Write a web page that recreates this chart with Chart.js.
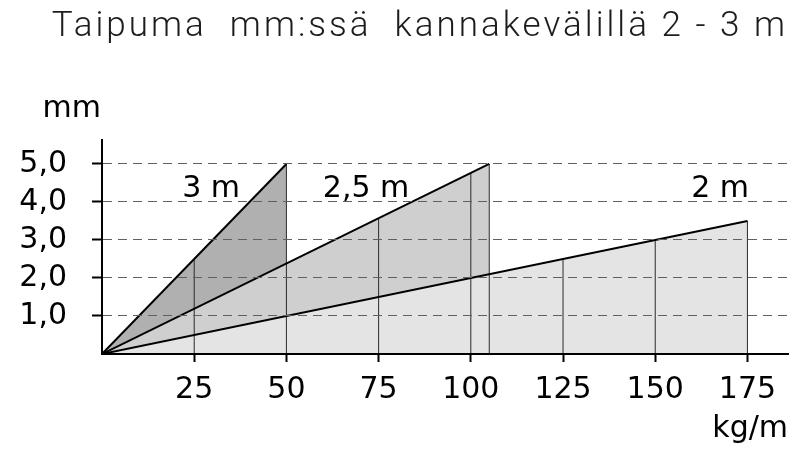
<!DOCTYPE html>
<html>
<head>
<meta charset="utf-8">
<script src="https://cdn.jsdelivr.net/npm/chart.js@4/dist/chart.umd.min.js"></script>
<style>
  html, body { margin: 0; padding: 0; background: #ffffff; }
  #wrap { width: 800px; height: 460px; }
</style>
</head>
<body>
<div id="wrap"><canvas id="c" width="800" height="460"></canvas></div>
<script>
// ---- data ----
const spanLabels = ['3 m', '2,5 m', '2 m'];      // kannakeväli
const endLoad    = [50, 105, 175];               // kg/m at the end of each line
const endDefl    = [5.0, 5.0, 3.5];              // mm at the end of each line
const dropLoad   = [25, 50, 75, 100, 105, 125, 150, 175];   // vertical reading lines
const dropDefl   = [2.5, 5.0, 3.57, 4.76, 5.0, 2.5, 3.0, 3.5];
const xTickValues = [25, 50, 75, 100, 125, 150, 175];
const yTickValues = [1, 2, 3, 4, 5];
const titleText = 'Taipuma  mm:ssä  kannakevälillä 2 - 3 m';
const yUnit = 'mm';
const xUnit = 'kg/m';

// ---- styling ----
const fillColors = ['#b0b0b0', '#cfcfcf', '#e4e4e4'];
const labelPos = [[29.6, 4.13], [71.6, 4.13], [167.6, 4.13]];
const FONT = "'DejaVu Sans', 'Liberation Sans', sans-serif";
const CLEAR = 'rgba(0,0,0,0)';

Chart.defaults.font.family = FONT;
Chart.defaults.color = '#000';

const datasets = [];
// filled areas (drawn first, 2 m at bottom)
spanLabels.forEach((lab, i) => {
  datasets.push({
    label: lab + ' fill',
    data: [{x: 0, y: 0}, {x: endLoad[i], y: endDefl[i]}],
    fill: 'origin',
    backgroundColor: fillColors[i],
    borderColor: CLEAR,
    borderWidth: 1,
    pointRadius: 0,
    order: 20 - i
  });
});
// vertical reading lines
const dropData = [];
dropLoad.forEach((x, i) => {
  dropData.push({x: x, y: 0}, {x: x, y: dropDefl[i]}, {x: x, y: null});
});
datasets.push({
  label: 'drops',
  data: dropData,
  fill: false,
  borderColor: '#2a2a2a',
  borderWidth: 1,
  pointRadius: 0,
  spanGaps: false,
  order: 10
});
// deflection lines
spanLabels.forEach((lab, i) => {
  datasets.push({
    label: lab,
    data: [{x: 0, y: 0}, {x: endLoad[i], y: endDefl[i]}],
    fill: false,
    borderColor: '#000',
    borderWidth: 2,
    pointRadius: 0,
    order: 5 - i
  });
});

const textPlugin = {
  id: 'textPlugin',
  beforeDraw(chart) {
    // widen the title's letter spacing (title is drawn before datasets; scales are drawn after)
    chart.ctx.letterSpacing = '3px';
  },
  beforeDatasetsDraw(chart) {
    chart.ctx.letterSpacing = '0px';
  },
  afterDatasetsDraw(chart) {
    const {ctx, chartArea, scales} = chart;
    ctx.save();
    ctx.letterSpacing = '0px';
    ctx.fillStyle = '#000';
    ctx.font = '30px ' + FONT;
    ctx.textBaseline = 'alphabetic';
    ctx.textAlign = 'right';
    ctx.fillText(yUnit, chartArea.left - 1, 117);
    ctx.textAlign = 'center';
    spanLabels.forEach((lab, i) => {
      ctx.fillText(lab, scales.x.getPixelForValue(labelPos[i][0]), scales.y.getPixelForValue(labelPos[i][1]));
    });
    ctx.restore();
  }
};

new Chart(document.getElementById('c'), {
  type: 'line',
  data: { datasets },
  plugins: [textPlugin],
  options: {
    responsive: false,
    animation: false,
    events: [],
    layout: { padding: { left: 0, right: 12, top: 0, bottom: 0 } },
    plugins: {
      legend: { display: false },
      tooltip: { enabled: false },
      title: {
        display: true,
        text: titleText,
        align: 'end',
        color: '#1c1c1c',
        font: { family: "Roboto, 'Open Sans', sans-serif", size: 35, weight: 300, lineHeight: 1.2 },
        padding: { top: 6, bottom: 92 }
      }
    },
    scales: {
      x: {
        type: 'linear',
        min: 0,
        max: 186,
        afterBuildTicks(scale) { scale.ticks = xTickValues.map(v => ({value: v})); },
        afterFit(scale) { scale.height = 106; },
        ticks: { font: { size: 30 }, padding: 10, maxRotation: 0, autoSkip: false, color: '#000', z: 1 },
        grid: { drawOnChartArea: false, drawTicks: true, tickLength: 8, tickColor: '#000', tickWidth: 2, z: 1 },
        border: { display: true, color: '#000', width: 2, z: 2 },
        title: { display: true, text: xUnit, align: 'end', font: { size: 30 }, padding: { top: 0, bottom: 13 }, color: '#000' }
      },
      y: {
        type: 'linear',
        min: 0,
        max: 5.63,
        afterBuildTicks(scale) { scale.ticks = yTickValues.map(v => ({value: v})); },
        afterFit(scale) { scale.width = 102; },
        ticks: {
          font: { size: 30 }, padding: 25, color: '#000', z: 1,
          callback: (v) => v.toFixed(1).replace('.', ',')
        },
        grid: { color: '#606060', lineWidth: 1, drawTicks: true, tickLength: 10, tickColor: '#000', tickWidth: 2, tickBorderDash: [], z: 1 },
        border: { display: true, color: '#000', width: 2, dash: [9, 6], z: 2 }
      }
    }
  }
});
</script>
</body>
</html>
